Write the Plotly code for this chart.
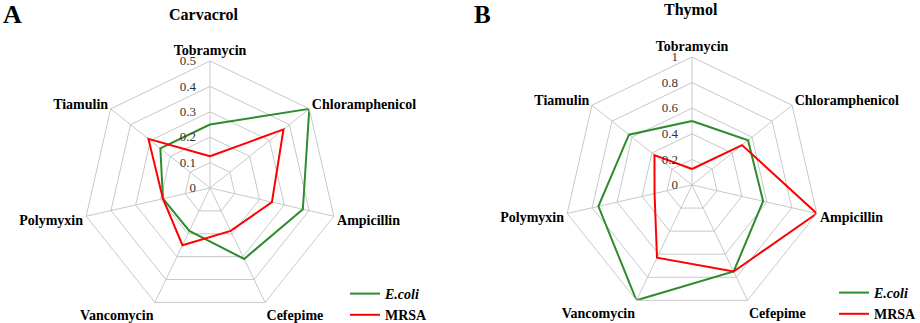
import plotly.graph_objects as go

categories = ["Tobramycin", "Chloramphenicol", "Ampicillin", "Cefepime",
              "Vancomycin", "Polymyxin", "Tiamulin"]

carvacrol_ecoli = [0.25, 0.5, 0.375, 0.31, 0.1875, 0.19, 0.25]
carvacrol_mrsa = [0.125, 0.37, 0.25, 0.1875, 0.25, 0.19, 0.31]

thymol_ecoli = [0.5, 0.56, 0.57, 0.75, 1.0, 0.75, 0.63]
thymol_mrsa = [0.125, 0.5, 1.0, 0.75, 0.63, 0.3, 0.375]

GREEN = "#2e8b2e"
RED = "#ff0000"
GRID = "#c8c8c8"
FONT = "Liberation Serif"

W, H = 920, 323


def px(x):
    return x / W


def py(y):
    return 1 - y / H


def closed(v):
    return list(v) + [v[0]]


cats_closed = closed(categories)

fig = go.Figure()

fig.add_trace(go.Scatterpolar(r=closed(carvacrol_ecoli), theta=cats_closed, mode="lines",
                              line=dict(color=GREEN, width=2), name="<i>E.coli</i>",
                              subplot="polar", legend="legend"))
fig.add_trace(go.Scatterpolar(r=closed(carvacrol_mrsa), theta=cats_closed, mode="lines",
                              line=dict(color=RED, width=2), name="MRSA",
                              subplot="polar", legend="legend"))
fig.add_trace(go.Scatterpolar(r=closed(thymol_ecoli), theta=cats_closed, mode="lines",
                              line=dict(color=GREEN, width=2), name="<i>E.coli</i>",
                              subplot="polar2", legend="legend2"))
fig.add_trace(go.Scatterpolar(r=closed(thymol_mrsa), theta=cats_closed, mode="lines",
                              line=dict(color=RED, width=2), name="MRSA",
                              subplot="polar2", legend="legend2"))


def polar_cfg(cx, cy, rad, rmax, dtick):
    return dict(
        domain=dict(x=[px(cx - rad), px(cx + rad)], y=[py(cy + rad), py(cy - rad)]),
        gridshape="linear",
        bgcolor="white",
        radialaxis=dict(range=[0, rmax], dtick=dtick, tick0=0, angle=90, tickangle=90,
                        showline=False, gridcolor=GRID, gridwidth=1,
                        ticks="outside", ticklen=9, tickcolor="rgba(0,0,0,0)",
                        tickfont=dict(family=FONT, size=13, color="#333333"),
                        side="counterclockwise"),
        angularaxis=dict(rotation=90, direction="clockwise", showline=True,
                         linecolor=GRID, linewidth=1, gridcolor=GRID, gridwidth=1,
                         ticks="", categoryorder="array", categoryarray=categories,
                         tickfont=dict(family=FONT, size=14, color="black", weight="bold")),
    )


legend_font = dict(family=FONT, size=14, color="black", weight="bold")

fig.update_layout(
    width=W, height=H,
    margin=dict(l=0, r=0, t=0, b=0, autoexpand=False),
    paper_bgcolor="white",
    font=dict(family=FONT, color="black"),
    polar=polar_cfg(210, 188, 127, 0.5, 0.1),
    polar2=polar_cfg(692, 185, 128, 1.0, 0.2),
    legend=dict(x=px(345), y=py(278), xanchor="left", yanchor="top", font=legend_font,
                bgcolor="rgba(0,0,0,0)", tracegroupgap=0, itemwidth=30),
    legend2=dict(x=px(834), y=py(277), xanchor="left", yanchor="top", font=legend_font,
                 bgcolor="rgba(0,0,0,0)", tracegroupgap=0, itemwidth=30),
    annotations=[
        dict(text="<b>A</b>", x=px(1), y=py(15), xref="paper", yref="paper",
             xanchor="left", yanchor="middle", showarrow=False,
             font=dict(family=FONT, size=26, color="black")),
        dict(text="<b>B</b>", x=px(472), y=py(15), xref="paper", yref="paper",
             xanchor="left", yanchor="middle", showarrow=False,
             font=dict(family=FONT, size=25, color="black")),
        dict(text="<b>Carvacrol</b>", x=px(204), y=py(15), xref="paper", yref="paper",
             xanchor="center", yanchor="middle", showarrow=False,
             font=dict(family=FONT, size=16, color="black")),
        dict(text="<b>Thymol</b>", x=px(691), y=py(10), xref="paper", yref="paper",
             xanchor="center", yanchor="middle", showarrow=False,
             font=dict(family=FONT, size=16, color="black")),
    ],
)

# remove the default 8px page margin so the figure sits at the window's top-left corner
fig.write_html("out.html", config={"displayModeBar": False},
               post_script="document.body.style.margin='0';")
